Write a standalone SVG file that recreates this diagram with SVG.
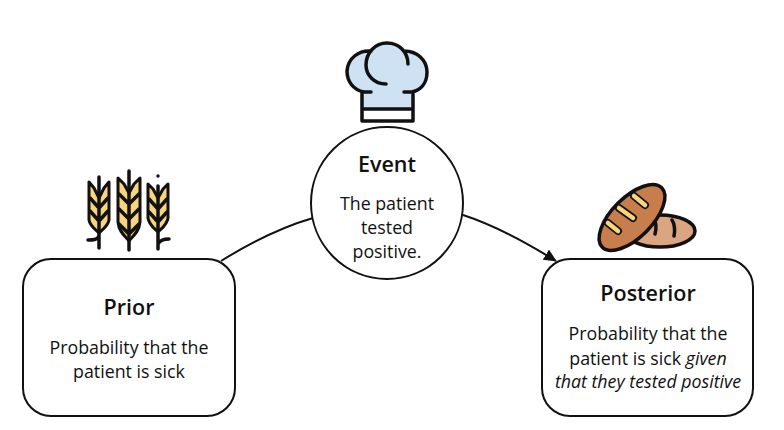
<svg xmlns="http://www.w3.org/2000/svg" width="784" height="430" viewBox="0 0 784 430">
<style>
text{font-family:"Open Sans","Noto Sans",sans-serif;text-anchor:middle;fill:#111}
.t{font-size:21.500px;font-weight:600}
.b{font-size:17.800px}
.n{fill:#fff;stroke:#111;stroke-width:2}
.o{stroke:#111;stroke-width:3.500;stroke-linecap:round;stroke-linejoin:round}
.i{fill:none;stroke:#111;stroke-width:3.500;stroke-linecap:round;stroke-linejoin:round}
.c{fill:none;stroke:#111;stroke-width:2}
.w{fill:#f7d57f;stroke:#111;stroke-width:3;stroke-linejoin:round}
</style>
<defs>
<marker id="arrow" markerWidth="13" markerHeight="12" refX="12" refY="6" orient="auto" markerUnits="userSpaceOnUse"><path d="M0 0L13 6L0 12Z" fill="#111"/></marker>
</defs>
<g id="connectors">
<path class="c" d="M221 261C250 243 282 227 313 218"/>
<path class="c" d="M463 215C497 226 527 243 556 261" marker-end="url(#arrow)"/>
</g>
<g id="prior">
<rect class="n" x="23" y="259" width="212" height="157" rx="28"/>
<text class="t" x="129" y="315">Prior</text>
<text class="b" x="129" y="354">Probability that the</text>
<text class="b" x="129" y="378">patient is sick</text>
</g>
<g id="event">
<circle class="n" cx="387" cy="203" r="76"/>
<text class="t" x="387" y="172">Event</text>
<text class="b" x="387" y="210">The patient</text>
<text class="b" x="387" y="234">tested</text>
<text class="b" x="387" y="258">positive.</text>
</g>
<g id="posterior">
<rect class="n" x="542" y="259" width="211" height="157" rx="28"/>
<text class="t" x="648" y="301">Posterior</text>
<text class="b" x="648" y="340">Probability that the</text>
<text class="b" x="648" y="365">patient is sick <tspan font-style="italic">given</tspan></text>
<text class="b" x="648" y="388" font-style="italic">that they tested positive</text>
</g>
<g id="hat">
<path d="M362 92C350 90 347 78 348 70C350 58 360 51 370 51C375 46 381 43 388 43C394 43 399 46 404 51C417 51 427 60 427 72C427 84 421 90 413 92V121H362Z" fill="#cfe2f3"/>
<rect x="362" y="109" width="51" height="12" fill="#fff"/>
<path class="i" d="M371 92H364C353 90 347 81 347 71C348 58 359 50 371 51M404 51C417 51 427 60 427 72C427 83 421 90 412 92H404M362 92V121H413V92M362 109H413M408 64C408 52 399 43 387 43C375 43 366 53 366 65C366 75 374 84 386 84"/>
</g>
<g id="wheat">
<path class="w" d="M89 182V220C90 226 95 229 99 233C103 229 108 226 109 220V182L104 188L99 198L94 188Z"/>
<path class="i" d="M99 177V248M90 198L99 208L108 198M90 211L99 221L108 211M88 240C93 240 97 240 99 236"/>
<path class="w" d="M118 178V222C119 232 125 236 129 241C133 236 139 232 140 222V178L134 184L129 193L124 184Z"/>
<path class="i" d="M129 171V250M119 194L129 204L139 194M119 209L129 219L139 209M119 224L129 234L139 224"/>
<path class="w" d="M148 184V218C149 225 154 228 158 232C162 228 167 225 168 218V184L163 189L158 198L153 189Z"/>
<path class="i" d="M158 186V249M149 199L158 209L167 199M149 212L158 222L167 212M169 239C164 239 160 240 158 244"/>
<circle cx="158" cy="176" r="1.700" fill="#111"/>
</g>
<g id="bread">
<ellipse class="o" cx="660" cy="231" rx="35" ry="16" fill="#dca581"/>
<path d="M637 234C643 233 646 229 648 226M654 219C657 224 656 230 655 234M672 220C675 224 675 232 674 236" fill="none" stroke="#111" stroke-width="3.500" stroke-linecap="round"/>
<ellipse class="o" cx="632" cy="217.500" rx="42" ry="20" transform="rotate(-45 632 217.500)" fill="#c87e4c"/>
<path d="M608 223L618 231M619 208L633 218M634 196L645 205" fill="none" stroke="#111" stroke-width="8" stroke-linecap="round"/>
<path d="M608 223L618 231M619 208L633 218M634 196L645 205" fill="none" stroke="#f7d57f" stroke-width="4.500" stroke-linecap="round"/>
</g>
</svg>
